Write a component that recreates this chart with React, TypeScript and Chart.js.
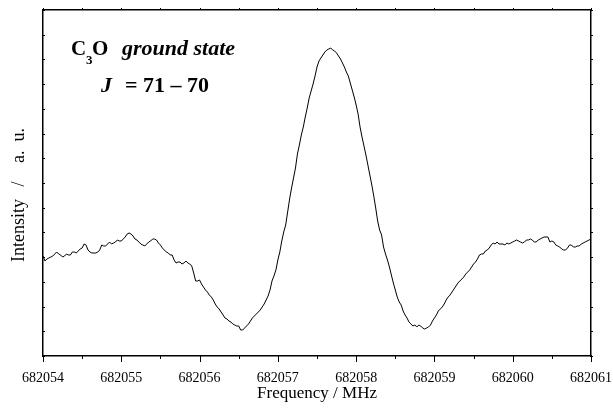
import React, { useEffect, useRef } from "react";
import { Chart, registerables } from "chart.js";

Chart.register(...registerables);

// Frequency sweep: 682054 MHz start, 0.025 MHz sampling step
const FREQ_START = 682054;
const FREQ_STEP = 0.025;
const X_TICKS = [682054, 682055, 682056, 682057, 682058, 682059, 682060, 682061];
const Y_MIN = 0;
const Y_MAX = 346; // intensity, arbitrary units
const Y_TICK_COUNT = 14;

// Intensity (a.u.)
const intensity = [
  100, 95, 97, 98, 99, 100, 102, 104, 102, 101,
  99, 100, 102, 101, 101, 104, 104, 103, 105, 107,
  108, 112, 111, 106, 104, 103, 103, 103, 104, 106,
  111, 110, 110, 112, 114, 112, 113, 114, 116, 115,
  115, 117, 119, 122, 123, 122, 120, 117, 116, 114,
  112, 111, 110, 112, 114, 115, 117, 117, 116, 113,
  111, 108, 106, 104, 103, 101, 101, 96, 93, 94,
  94, 92, 93, 95, 93, 92, 90, 83, 75, 75,
  76, 72, 69, 66, 64, 61, 59, 56, 52, 49,
  47, 44, 41, 38, 37, 35, 34, 32, 31, 30,
  30, 26, 26, 28, 30, 32, 35, 38, 40, 42,
  44, 46, 49, 52, 56, 60, 66, 75, 80, 86,
  96, 104, 115, 124, 131, 144, 157, 168, 178, 188,
  202, 211, 221, 229, 239, 248, 258, 265, 272, 280,
  289, 295, 298, 301, 304, 306, 307, 308, 306, 305,
  303, 300, 297, 293, 289, 284, 280, 273, 266, 259,
  251, 242, 229, 219, 210, 201, 191, 181, 171, 160,
  148, 135, 126, 121, 109, 102, 96, 89, 81, 73,
  66, 59, 54, 51, 45, 41, 38, 34, 32, 30,
  31, 29, 31, 30, 28, 27, 28, 29, 31, 35,
  38, 41, 45, 47, 49, 52, 56, 59, 61, 64,
  67, 70, 73, 75, 77, 79, 82, 84, 86, 89,
  92, 94, 97, 101, 102, 102, 105, 106, 108, 111,
  113, 112, 114, 112, 112, 112, 111, 113, 112, 113,
  114, 115, 116, 115, 114, 113, 114, 116, 116, 117,
  116, 114, 114, 116, 117, 118, 119, 119, 119, 114,
  115, 114, 111, 110, 109, 107, 106, 106, 108, 111,
  111, 109, 109, 110, 110, 112, 113, 114, 115, 116,
  117,
];

const SERIF = "'Liberation Serif', 'Times New Roman', serif";

const tickPlugin = {
  id: "frameTicks",
  afterDraw(chart: any) {
    const { ctx, chartArea, scales } = chart;
    const xs = scales.x;
    const ys = scales.y;
    ctx.save();
    ctx.strokeStyle = "#000";
    ctx.lineWidth = 1;
    ctx.beginPath();
    for (let v = X_TICKS[0]; v <= X_TICKS[X_TICKS.length - 1] + 1e-9; v += 0.5) {
      const major = Math.abs(v - Math.round(v)) < 1e-6;
      const px = Math.round(xs.getPixelForValue(v)) + 0.5;
      ctx.moveTo(px, chartArea.bottom);
      ctx.lineTo(px, chartArea.bottom + (major ? 6 : 3));
      ctx.moveTo(px, chartArea.top);
      ctx.lineTo(px, chartArea.top - 2);
    }
    for (let k = 0; k <= Y_TICK_COUNT; k++) {
      const val = Y_MIN + ((Y_MAX - Y_MIN) * k) / Y_TICK_COUNT;
      const py = Math.round(ys.getPixelForValue(val)) + 0.5;
      ctx.moveTo(chartArea.left, py);
      ctx.lineTo(chartArea.left + 2, py);
      ctx.moveTo(chartArea.right, py);
      ctx.lineTo(chartArea.right + 2, py);
    }
    ctx.stroke();

    // annotation
    ctx.fillStyle = "#000";
    ctx.textBaseline = "alphabetic";
    ctx.textAlign = "left";
    ctx.font = `bold 21px ${SERIF}`;
    ctx.fillText("C", 71, 55);
    ctx.font = `bold 13px ${SERIF}`;
    ctx.fillText("3", 86, 64);
    ctx.font = `bold 21px ${SERIF}`;
    ctx.fillText("O", 92, 55);
    ctx.font = `italic bold 22px ${SERIF}`;
    ctx.fillText("ground state", 122, 55);
    ctx.fillText("J", 101, 92);
    ctx.font = `bold 22px ${SERIF}`;
    ctx.fillText("= 71 \u2013 70", 125, 92);

    // y-axis title
    ctx.save();
    ctx.translate(24, 0);
    ctx.rotate(-Math.PI / 2);
    ctx.font = `18px ${SERIF}`;
    ctx.textAlign = "left";
    ctx.fillText("Intensity", -262, 0);
    ctx.textAlign = "center";
    ctx.fillText("/", -184, 0);
    ctx.textAlign = "right";
    ctx.fillText("a.  u.", -128, 0);
    ctx.restore();
    ctx.restore();
  },
};

export default function App() {
  const ref = useRef<HTMLCanvasElement | null>(null);
  useEffect(() => {
    if (!ref.current) return;
    const points = intensity.map((v, i) => ({ x: FREQ_START + i * FREQ_STEP, y: v }));
    const chart = new Chart(ref.current, {
      type: "line",
      data: {
        datasets: [
          {
            data: points,
            borderColor: "#000",
            borderWidth: 1,
            pointRadius: 0,
            tension: 0,
            fill: false,
          },
        ],
      },
      options: {
        animation: false,
        responsive: false,
        devicePixelRatio: 1,
        layout: { padding: 0 },
        plugins: { legend: { display: false }, tooltip: { enabled: false }, title: { display: false } },
        scales: {
          x: {
            type: "linear",
            position: "bottom",
            min: X_TICKS[0],
            max: X_TICKS[X_TICKS.length - 1],
            afterBuildTicks: (s: any) => {
              s.ticks = X_TICKS.map((v) => ({ value: v }));
            },
            afterFit: (s: any) => {
              s.height = 58;
              s.paddingLeft = 0;
              s.paddingRight = 0;
            },
            grid: { display: false },
            border: { display: true, color: "#000", width: 1.5 },
            ticks: {
              color: "#000",
              font: { family: SERIF, size: 14 },
              padding: 6,
              maxRotation: 0,
              autoSkip: false,
              callback: (v: any) => String(v),
            },
            title: {
              display: true,
              text: "Frequency / MHz",
              color: "#000",
              font: { family: SERIF, size: 17 },
              padding: { top: 0, bottom: 10 },
            },
          },
          x2: {
            type: "linear",
            position: "top",
            min: X_TICKS[0],
            max: X_TICKS[X_TICKS.length - 1],
            afterFit: (s: any) => {
              s.height = 10;
            },
            grid: { display: false },
            border: { display: true, color: "#000", width: 1.5 },
            ticks: { display: false },
          },
          y: {
            type: "linear",
            position: "left",
            min: Y_MIN,
            max: Y_MAX,
            afterFit: (s: any) => {
              s.width = 43;
            },
            grid: { display: false },
            border: { display: true, color: "#000", width: 1.5 },
            ticks: { display: false },
          },
          y2: {
            type: "linear",
            position: "right",
            min: Y_MIN,
            max: Y_MAX,
            afterFit: (s: any) => {
              s.width = 22;
            },
            grid: { display: false },
            border: { display: true, color: "#000", width: 1.5 },
            ticks: { display: false },
          },
        },
      },
      plugins: [tickPlugin],
    });
    return () => chart.destroy();
  }, []);
  return (
    <div style={{ position: "absolute", left: 0, top: 0, width: 613, height: 414, background: "#fff" }}>
      <canvas ref={ref} width={613} height={414} />
    </div>
  );
}
